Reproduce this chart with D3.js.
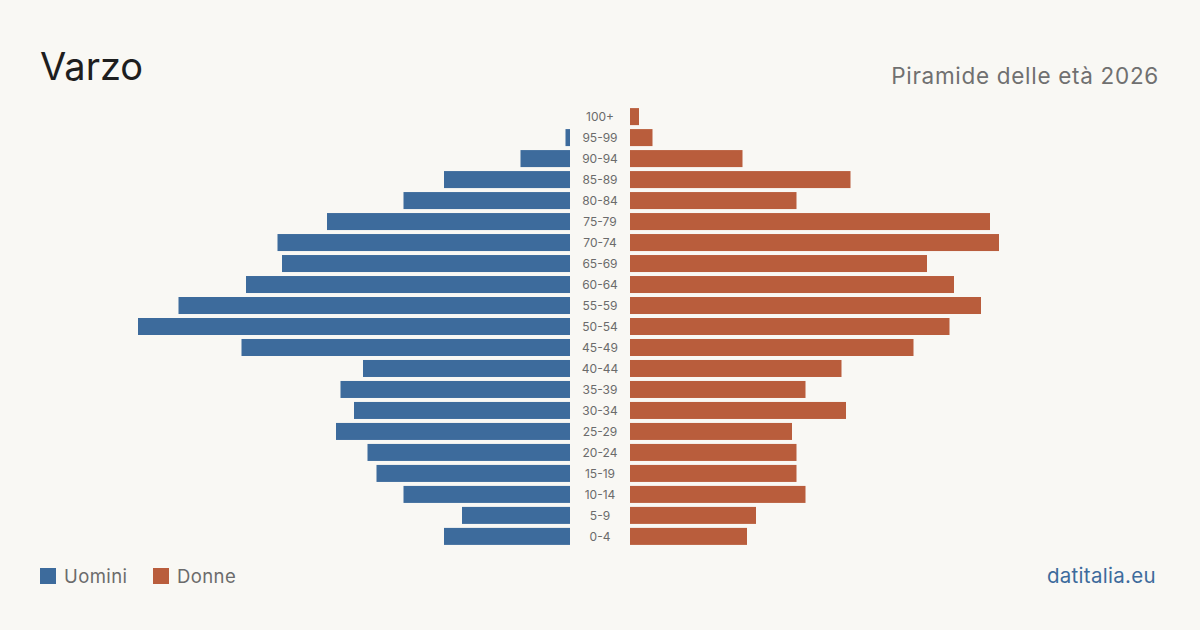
<!DOCTYPE html>
<html>
<head>
<meta charset="utf-8">
<script src="https://cdn.jsdelivr.net/npm/d3@7"></script>
<style>
  html, body { margin: 0; padding: 0; background: #f9f8f4; }
  svg { display: block; font-family: Inter, "Noto Sans", sans-serif; }
</style>
</head>
<body>
<script>
var ageGroups = ["100+", "95-99", "90-94", "85-89", "80-84", "75-79", "70-74", "65-69",
    "60-64", "55-59", "50-54", "45-49", "40-44", "35-39", "30-34", "25-29",
    "20-24", "15-19", "10-14", "5-9", "0-4"];
var men   = [0, 1, 11, 28, 37, 54, 65, 64, 72, 87, 96, 73, 46, 51, 48, 52, 45, 43, 37, 24, 28];
var women = [2, 5, 25, 49, 37, 80, 82, 66, 72, 78, 71, 63, 47, 39, 48, 36, 37, 37, 39, 28, 26];

var _width = 1200, _height = 630,
    _colors = {men: "#3d6b9c", women: "#b95d3c"},
    _center = 600, _gap = 30, _maxLen = 432;

var svg = d3.select("body").append("svg")
    .attr("width", _width)
    .attr("height", _height);

svg.append("rect").attr("width", _width).attr("height", _height).attr("fill", "#f9f8f4");

var data = ageGroups.map(function (a, i) {
    return {age: a, men: men[i], women: women[i]};
});

var _y = d3.scaleBand()
    .domain(ageGroups)
    .range([106, 547])
    .paddingInner(0.19)
    .paddingOuter(0.1);

var _x = d3.scaleLinear()
    .domain([0, d3.max(men.concat(women))])
    .range([0, _maxLen]);

// men (left)
svg.append("g").selectAll("rect").data(data).enter()
    .append("rect")
    .attr("x", function (d) { return _center - _gap - _x(d.men); })
    .attr("y", function (d) { return _y(d.age); })
    .attr("width", function (d) { return _x(d.men); })
    .attr("height", _y.bandwidth())
    .attr("fill", _colors.men);

// women (right)
svg.append("g").selectAll("rect").data(data).enter()
    .append("rect")
    .attr("x", _center + _gap)
    .attr("y", function (d) { return _y(d.age); })
    .attr("width", function (d) { return _x(d.women); })
    .attr("height", _y.bandwidth())
    .attr("fill", _colors.women);

// age labels
svg.append("g").selectAll("text").data(data).enter()
    .append("text")
    .attr("x", _center)
    .attr("y", function (d) { return _y(d.age) + _y.bandwidth() / 2; })
    .attr("dy", "0.35em")
    .attr("text-anchor", "middle")
    .attr("font-size", 12)
    .attr("fill", "#6b6b6b")
    .text(function (d) { return d.age; });

// titles
svg.append("text")
    .attr("x", 40).attr("y", 80)
    .attr("font-size", 38)
    .attr("fill", "#1e1e1e")
    .text("Varzo");

svg.append("text")
    .attr("x", 1159).attr("y", 84)
    .attr("text-anchor", "end")
    .attr("font-size", 22.5)
    .attr("letter-spacing", 0.7)
    .attr("fill", "#707070")
    .text("Piramide delle età 2026");

// legend
var legend = svg.append("g").attr("transform", "translate(40,568)");
var items = [{label: "Uomini", color: _colors.men, x: 0}, {label: "Donne", color: _colors.women, x: 113}];
items.forEach(function (it) {
    legend.append("rect")
        .attr("x", it.x).attr("y", 0)
        .attr("width", 16).attr("height", 16)
        .attr("fill", it.color);
    legend.append("text")
        .attr("x", it.x + 24).attr("y", 8)
        .attr("dy", "0.36em")
        .attr("font-size", 18.5)
        .attr("letter-spacing", 0.4)
        .attr("fill", "#6b6b6b")
        .text(it.label);
});

svg.append("text")
    .attr("x", 1156).attr("y", 583)
    .attr("text-anchor", "end")
    .attr("font-size", 20.5)
    .attr("letter-spacing", 0.3)
    .attr("fill", "#3d6b9c")
    .text("datitalia.eu");
</script>
</body>
</html>
